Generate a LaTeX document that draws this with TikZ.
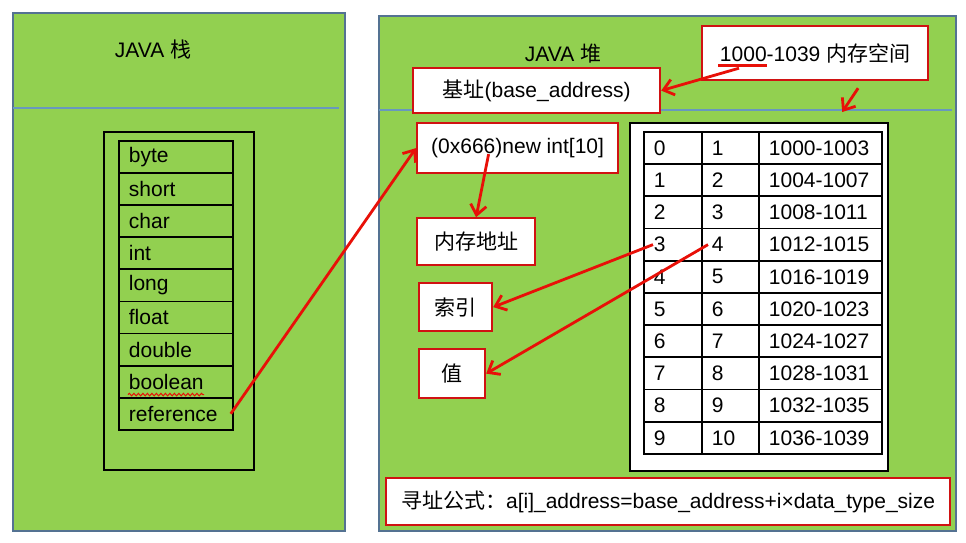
\documentclass[tikz,border=0pt]{standalone}
\usepackage{fontspec}
\setmainfont{Liberation Sans}
\newfontfamily\cjk{Noto Sans CJK SC}
\usepackage{tikz}
\usetikzlibrary{positioning, arrows.meta, decorations.pathmorphing}
\definecolor{javagreen}{RGB}{146,208,80}
\definecolor{panelline}{RGB}{84,114,146}
\definecolor{divider}{RGB}{104,152,190}
\definecolor{linkred}{RGB}{232,16,8}
\definecolor{boxred}{RGB}{208,18,18}
\tikzset{
  panel/.style={
    draw=panelline, fill=javagreen, line width=1.8pt,
    inner sep=0pt, anchor=north west
  },
  title/.style={font=\fontsize{21}{25}\selectfont, inner sep=0pt},
  label box/.style={
    draw=boxred, fill=white, line width=2.2pt, inner sep=0pt,
    anchor=north west, font=\fontsize{21}{25}\selectfont
  },
  cell/.style={
    draw=black, line width=1.8pt, inner xsep=10pt, inner ysep=0pt,
    minimum height=32.1pt, anchor=north west, align=left,
    font=\fontsize{21}{25}\selectfont
  },
  link/.style={draw=linkred, line width=2.8pt, -{Straight Barb[length=10pt, width=16pt]}},
}

\begin{document}
\begin{tikzpicture}[x=1pt, y=-1pt]
  \useasboundingbox[fill=white] (0,0) rectangle (966,542);

  \node[panel, minimum width=332pt, minimum height=518pt] (stack) at (12,12) {};
  \node[panel, minimum width=577pt, minimum height=515pt] (heap) at (378,15) {};
  \draw[divider, line width=1.8pt] (13,108) -- (339,108);
  \draw[divider, line width=1.8pt] (379,110) -- (952,110);
  \node[title] (stacktitle) at (153,50) {JAVA {\cjk 栈}};
  \node[title] (heaptitle) at (563,54) {JAVA {\cjk 堆}};

  \node[draw, line width=2.2pt, inner sep=0pt, anchor=north west,
        minimum width=150pt, minimum height=338pt] (stackframe) at (103,131) {};
  \foreach \t [count=\i] in {byte,short,char,int,long,float,double,boolean,reference}
    \node[cell, text width=94pt] (s\i) at (118,{140+(\i-1)*32.1}) {\t};
  \draw[linkred, line width=1pt, decorate,
        decoration={snake, amplitude=1.3pt, segment length=4.5pt}]
    ([shift={(10pt,4pt)}]s8.south west) -- ([shift={(86pt,4pt)}]s8.south west);

  \node[label box, minimum width=226pt, minimum height=54pt] (space) at (701,25)
    {1000-1039 {\cjk 内存空间}};
  \node[label box, minimum width=247pt, minimum height=45pt] (base) at (412,67)
    {{\cjk 基址}(base\_address)};
  \node[label box, minimum width=201pt, minimum height=50pt] (newarr) at (416,122)
    {(0x666)new int[10]};
  \node[label box, below=43pt of newarr.south west, anchor=north west,
        minimum width=118pt, minimum height=47pt] (memaddr) {{\cjk 内存地址}};
  \node[label box, minimum width=73pt, minimum height=48pt] (idxbox) at (418,282) {{\cjk 索引}};
  \node[label box, minimum width=66pt, minimum height=49pt] (valbox) at (418,348) {{\cjk 值}};
  \node[label box, minimum width=564pt, minimum height=47pt] (formula) at (385,477)
    {{\cjk 寻址公式：}a[i]\_address=base\_address+i×data\_type\_size};

  \node[draw, fill=white, line width=2.2pt, inner sep=0pt, anchor=north west,
        minimum width=258pt, minimum height=348pt] (tableframe) at (629,122) {};
  \foreach \r in {0,...,9} {
    \pgfmathtruncatemacro\v{\r+1}
    \pgfmathtruncatemacro\lo{1000+4*\r}
    \pgfmathtruncatemacro\hi{1003+4*\r}
    \node[cell, minimum height=32.2pt, text width=38pt] (idx\r) at (643,{131+\r*32.2}) {\r};
    \node[cell, minimum height=32.2pt, text width=37pt] (val\r) at (701,{131+\r*32.2}) {\v};
    \node[cell, minimum height=32.2pt, text width=103pt] (addr\r) at (758,{131+\r*32.2}) {\lo-\hi};
  }

  \draw[linkred, line width=3pt] ([shift={(17pt,16pt)}]space.south west)
    -- ([shift={(66pt,16pt)}]space.south west);
  \coordinate (ul) at ([shift={(38pt,13pt)}]space.south west);
  \draw[link] (ul) -- (base.east);
  \draw[link] ([shift={(43pt,-7pt)}]space.south) -- ([shift={(-47pt,10pt)}]tableframe.north east);
  \draw[link] ([xshift=-3pt]s9.east) -- (newarr.west);
  \draw[link] ([shift={(-29pt,-6pt)}]newarr.center) -- (memaddr.north);
  \draw[link] ([xshift=10pt]idx3.west) -- (idxbox.east);
  \draw[link] ([xshift=7pt]val3.west) -- (valbox.east);
\end{tikzpicture}
\end{document}
